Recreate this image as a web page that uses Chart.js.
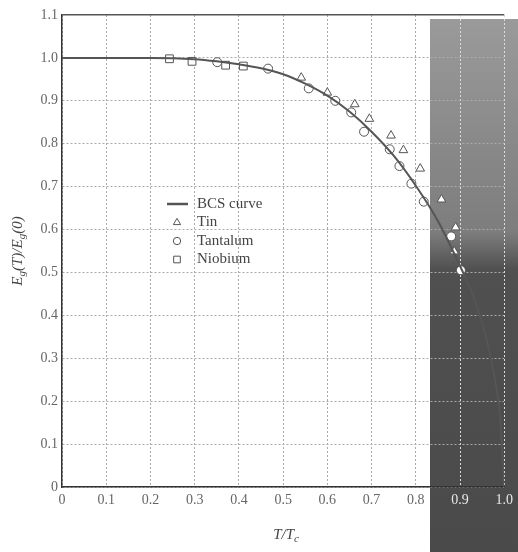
<!DOCTYPE html>
<html>
<head>
<meta charset="utf-8">
<script src="https://cdn.jsdelivr.net/npm/chart.js@4.4.1/dist/chart.umd.min.js"></script>
<style>
  body { margin: 0; background: #fff; }
  #wrap { position: relative; width: 518px; height: 552px; }
  #strip { position: absolute; left: 430px; top: 19px; width: 88px; height: 533px;
    background: linear-gradient(#9a9a9a, #7d7d7d 40%, #505050 47%, #4a4a4a); }
  canvas { position: relative; }
</style>
</head>
<body>
<div id="wrap">
  <div id="strip"></div>
  <canvas id="myChart" width="518" height="552"></canvas>
</div>
<script>
// reduced temperature T/Tc and gap ratio Eg(T)/Eg(0)
const bcsT   = [0, 0.1, 0.2, 0.3, 0.35, 0.4, 0.45, 0.5, 0.55, 0.6, 0.65, 0.7, 0.75, 0.8, 0.85, 0.9, 0.93, 0.96, 0.98, 0.99, 1.0];
const bcsGap = [1.0, 1.0, 1.0, 0.997, 0.992, 0.985, 0.976, 0.962, 0.94, 0.912, 0.875, 0.828, 0.772, 0.702, 0.62, 0.515, 0.445, 0.345, 0.245, 0.17, 0];

const tinT   = [0.541, 0.60, 0.662, 0.695, 0.744, 0.772, 0.81, 0.858, 0.89, 0.887];
const tinGap = [0.954, 0.919, 0.892, 0.858, 0.819, 0.785, 0.742, 0.67, 0.605, 0.549];

const taT    = [0.351, 0.466, 0.558, 0.618, 0.654, 0.683, 0.741, 0.763, 0.79, 0.818, 0.88, 0.902];
const taGap  = [0.99, 0.975, 0.929, 0.90, 0.873, 0.828, 0.787, 0.748, 0.707, 0.665, 0.584, 0.505];

const nbT    = [0.243, 0.294, 0.37, 0.41];
const nbGap  = [0.998, 0.992, 0.983, 0.981];

const xTicks = [0, 0.1, 0.2, 0.3, 0.4, 0.5, 0.6, 0.7, 0.8, 0.9, 1.0];
const yTicks = [0, 0.1, 0.2, 0.3, 0.4, 0.5, 0.6, 0.7, 0.8, 0.9, 1.0, 1.1];

const pts = (xs, ys) => xs.map((x, i) => ({x: x, y: ys[i]}));
const fmt = v => v === 0 ? '0' : v.toFixed(1);
const serif = "'Liberation Serif', 'DejaVu Serif', serif";

const titles = {
  id: 'titles',
  afterDraw(chart) {
    const ctx = chart.ctx;
    const big = 'italic 15px ' + serif, small = 'italic 11px ' + serif;
    const parts = (list) => {
      let w = 0;
      list.forEach(p => { ctx.font = p[1] ? small : big; w += ctx.measureText(p[0]).width; });
      return w;
    };
    const put = (list, x) => {
      list.forEach(p => {
        ctx.font = p[1] ? small : big;
        ctx.fillText(p[0], x, p[1] ? 4 : 0);
        x += ctx.measureText(p[0]).width;
      });
    };
    const ca = chart.chartArea;

    ctx.save();
    ctx.fillStyle = '#444';
    ctx.textBaseline = 'middle';
    const yt = [['E', 0], ['g', 1], ['(T)/E', 0], ['g', 1], ['(0)', 0]];
    ctx.translate(18, (ca.top + ca.bottom) / 2);
    ctx.rotate(-Math.PI / 2);
    put(yt, -parts(yt) / 2);
    ctx.restore();

    ctx.save();
    ctx.fillStyle = '#444';
    ctx.textBaseline = 'middle';
    const xt = [['T/T', 0], ['c', 1]];
    ctx.translate((ca.left + ca.right) / 2 + 3, 535);
    put(xt, -parts(xt) / 2);
    ctx.restore();
  }
};

const boxLegend = {
  id: 'boxLegend',
  afterDraw(chart) {
    const ctx = chart.ctx;
    const x0 = 177, tx = 197, y0 = 204, dy = 18.5;
    ctx.save();
    ctx.font = '15px ' + serif;
    ctx.textBaseline = 'middle';
    chart.data.datasets.forEach((ds, i) => {
      const y = y0 + i * dy;
      ctx.strokeStyle = '#555';
      ctx.fillStyle = '#fff';
      if (ds.showLine) {
        ctx.lineWidth = 2.5;
        ctx.beginPath(); ctx.moveTo(167, y); ctx.lineTo(188, y); ctx.stroke();
      } else {
        ctx.lineWidth = 1;
        Chart.helpers.drawPoint(ctx, {pointStyle: ds.pointStyle, radius: ds.pointRadius - 0.8, rotation: 0, borderWidth: 1}, x0, y);
      }
      ctx.fillStyle = '#444';
      ctx.fillText(ds.label, tx, y);
    });
    ctx.restore();
  }
};

const ctx = document.getElementById('myChart');

new Chart(ctx, {
  type: 'scatter',
  data: {
    datasets: [
      {
        label: 'BCS curve',
        data: pts(bcsT, bcsGap),
        showLine: true,
        borderColor: '#555',
        borderWidth: 2,
        pointRadius: 0,
        cubicInterpolationMode: 'monotone'
      },
      {
        label: 'Tin',
        data: pts(tinT, tinGap),
        pointStyle: 'triangle',
        pointRadius: 5,
        borderColor: '#555',
        borderWidth: 1,
        backgroundColor: '#fff'
      },
      {
        label: 'Tantalum',
        data: pts(taT, taGap),
        pointStyle: 'circle',
        pointRadius: 4.5,
        borderColor: '#555',
        borderWidth: 1,
        backgroundColor: '#fff'
      },
      {
        label: 'Niobium',
        data: pts(nbT, nbGap),
        pointStyle: 'rect',
        pointRadius: 5.5,
        borderColor: '#555',
        borderWidth: 1,
        backgroundColor: '#fff'
      }
    ]
  },
  options: {
    responsive: false,
    animation: false,
    layout: { padding: { top: 15, right: 11, left: 0, bottom: 0 } },
    scales: {
      x: {
        type: 'linear',
        min: 0, max: 1.0,
        afterBuildTicks: s => { s.ticks = xTicks.map(v => ({value: v})); },
        afterFit: s => { s.height = 65; },
        ticks: {
          padding: 5,
          color: c => (c.tick && c.tick.value > 0.85) ? '#e8e8e8' : '#666',
          font: { family: serif, size: 14 },
          callback: fmt
        },
        grid: { color: c => (c.tick && c.tick.value > 0.85) ? '#ddd' : '#aaa', drawTicks: false },
        border: { color: '#333', width: 1.5, dash: [2, 2] }
      },
      y: {
        type: 'linear',
        min: 0, max: 1.1,
        afterBuildTicks: s => { s.ticks = yTicks.map(v => ({value: v})); },
        afterFit: s => { s.width = 62; },
        ticks: {
          padding: 4,
          color: '#666',
          font: { family: serif, size: 14 },
          callback: fmt
        },
        grid: {
          color: c => (c.tick && c.tick.value === 1.1) ? '#555' : '#aaa',
          lineWidth: c => (c.tick && c.tick.value === 1.1) ? 1.5 : 1,
          drawTicks: false
        },
        border: {
          color: '#333', width: 1.5,
          dash: c => (c.tick && c.tick.value === 1.1) ? [] : [2, 2]
        }
      }
    },
    plugins: {
      legend: { display: false },
      tooltip: { enabled: false }
    }
  },
  plugins: [titles, boxLegend]
});
</script>
</body>
</html>
